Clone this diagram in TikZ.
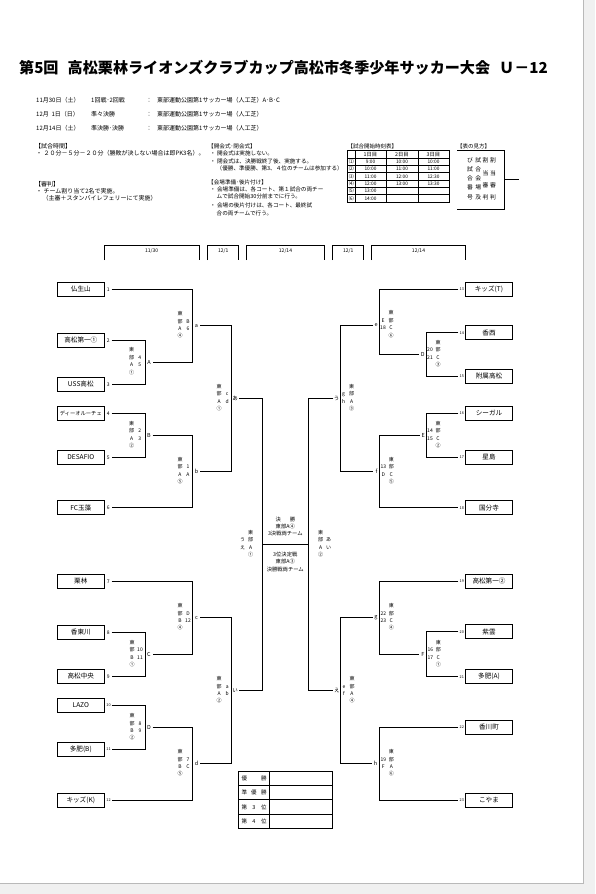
\documentclass[tikz,border=0pt]{standalone}
\usepackage{fontspec}
\setmainfont{Noto Sans CJK JP}
\usepackage{array}
\newcommand\fs[1]{\fontsize{#1}{#1}\selectfont}
\newcommand\annL[4]{\begin{tabular}{@{}w{c}{5pt}@{\hspace{3pt}}w{c}{5pt}@{}}東&\\部&#3\\#1&#4\\#2&\end{tabular}}
\newcommand\annR[4]{\begin{tabular}{@{}w{c}{5pt}@{\hspace{3pt}}w{c}{5pt}@{}}&東\\#3&部\\#4&#1\\&#2\end{tabular}}
\tikzset{
  ln/.style={line width=0.9pt},
  thin line/.style={line width=0.8pt},
  team/.style={draw, line width=0.9pt, minimum width=47pt, minimum height=14pt, inner sep=0, font=\fs{6.6}},
  num/.style={inner sep=0, font=\fs{5}},
  rnum/.style={inner sep=0, font=\fs{3.8}},
  lab/.style={inner sep=0, font=\fs{5.5}},
  ann/.style={inner sep=0, font=\fontsize{5}{7.4}\selectfont},
  note/.style={anchor=west, inner sep=0, font=\fs{6}},
  mnote/.style={anchor=west, inner sep=0, font=\fs{5.6}},
  cell/.style={inner sep=0, font=\fs{4.8}},
  datel/.style={inner sep=0, font=\fs{5}},
  fin/.style={inner sep=0, font=\fs{5.3}},
  ttl/.style={anchor=west, inner sep=0, font=\fs{15.1}\bfseries},
}
\begin{document}
\begin{tikzpicture}[x=1pt,y=-1pt]
\useasboundingbox (0,0) rectangle (595,894);
% page frame
\fill[gray!12] (0,0) rectangle (595,894);
\fill[white] (0,0) rectangle (583,883);
\draw[gray!55, line width=0.8pt] (583,0) -- (583,883) -- (0,883);

% title
\node[ttl] (ttl1) at (19,67.5) {第5回};
\node[ttl] (ttl2) at (67.5,67.5) {高松栗林ライオンズクラブカップ高松市冬季少年サッカー大会};
\node[ttl] (ttl3) at (499,67.5) {Ｕ－12};

% schedule lines
\node[note] (d1a) at (36,100) {11月30日（土）};
\node[note] (d1b) at (91,100) {1回戦･2回戦};
\node[note] (d1c) at (146,100) {：};
\node[note] (d1d) at (157,100) {東部運動公園第1サッカー場（人工芝）A･B･C};
\node[note] (d2a) at (36,114) {12月\ \ 1日（日）};
\node[note] (d2b) at (91,114) {準々決勝};
\node[note] (d2c) at (146,114) {：};
\node[note] (d2d) at (157,114) {東部運動公園第1サッカー場（人工芝）};
\node[note] (d3a) at (36,128) {12月14日（土）};
\node[note] (d3b) at (91,128) {準決勝･決勝};
\node[note] (d3c) at (146,128) {：};
\node[note] (d3d) at (157,128) {東部運動公園第1サッカー場（人工芝）};

% notes left
\node[note] (nA0) at (35,146) {【試合時間】};
\node[note] (nA1) at (36,153.5) {・ ２０分－５分－２０分（勝敗が決しない場合は即PK3名）。};
\node[note] (nB0) at (35,184) {【審判】};
\node[note] (nB1) at (36,191.5) {・ チーム割り当て2名で実施。};
\node[note] (nB2) at (42.5,198) {（主審＋スタンバイレフェリーにて実施）};
% notes middle
\node[mnote] (nC0) at (208,146) {【開会式･閉会式】};
\node[mnote] (nC1) at (210,153.5) {・ 開会式は実施しない。};
\node[mnote] (nC2) at (210,161) {・ 閉会式は、決勝戦終了後、実施する。};
\node[mnote] (nC3) at (216.5,168.3) {（優勝、準優勝、第3、４位のチームは参加する）};
\node[mnote] (nD0) at (208,182) {【会場準備･後片付け】};
\node[mnote] (nD1) at (210,189.3) {・ 会場準備は、各コート、第１試合の両チー};
\node[mnote] (nD2) at (216.5,196.8) {ムで試合開始30分前までに行う。};
\node[mnote] (nD3) at (210,205.6) {・ 会場の後片付けは、各コート、最終試};
\node[mnote] (nD4) at (216.5,213.2) {合の両チームで行う。};

% start time table
\node[note, font=\fs{5.5}] (tth) at (347.5,146) {【試合開始時刻表】};
\draw[thin line] (347.7,150.7) rectangle (449,202);
\foreach \yy in {158,165.3,172.7,180,187.3,194.7} \draw[thin line] (347.7,\yy) -- (449,\yy);
\foreach \xx in {355,386,418} \draw[thin line] (\xx,150.7) -- (\xx,202);
\node[cell, font=\fs{5.3}] (h1) at (370.5,154.4) {1日目};
\node[cell, font=\fs{5.3}] (h2) at (402,154.4) {2日目};
\node[cell, font=\fs{5.3}] (h3) at (433.5,154.4) {3日目};
\node[cell] (r1) at (351.3,161.7) {⑴};
\node[cell] (r2) at (351.3,169) {⑵};
\node[cell] (r3) at (351.3,176.4) {⑶};
\node[cell] (r4) at (351.3,183.7) {⑷};
\node[cell] (r5) at (351.3,191) {⑸};
\node[cell] (r6) at (351.3,198.4) {⑹};
\node[cell] (c11) at (370.5,161.7) {9:00};
\node[cell] (c12) at (402,161.7) {10:00};
\node[cell] (c13) at (433.5,161.7) {10:00};
\node[cell] (c21) at (370.5,169) {10:00};
\node[cell] (c22) at (402,169) {11:00};
\node[cell] (c23) at (433.5,169) {11:00};
\node[cell] (c31) at (370.5,176.4) {11:00};
\node[cell] (c32) at (402,176.4) {12:00};
\node[cell] (c33) at (433.5,176.4) {12:30};
\node[cell] (c41) at (370.5,183.7) {12:00};
\node[cell] (c42) at (402,183.7) {13:00};
\node[cell] (c43) at (433.5,183.7) {13:30};
\node[cell] (c51) at (370.5,191) {13:00};
\node[cell] (c61) at (370.5,198.4) {14:00};

% legend box
\node[note, font=\fs{5.5}] (lgh) at (457,146) {【表の見方】};
\draw[thin line] (457.3,150.7) -- (504,150.7) -- (504,209) -- (457.3,209);
\coordinate (lgstub) at (519.3,179);
\draw[thin line] (504,179) -- (lgstub);
\begin{scope}[every node/.style={inner sep=0, font=\fs{5.8}}]
\node (g11) at (470,160) {び}; \node (g12) at (478.3,160) {試};
\node (g13) at (485.5,160.5) {割}; \node (g14) at (493,160.5) {割};
\node (g21) at (470,169.3) {試}; \node (g22) at (478.3,169.3) {合};
\node (g23) at (485.5,173.3) {当}; \node (g24) at (493,173.3) {当};
\node (g31) at (470,178.3) {合}; \node (g32) at (478.3,178.3) {会};
\node (g33) at (485.5,185.7) {審}; \node (g34) at (493,185.7) {審};
\node (g41) at (470,187.3) {番}; \node (g42) at (478.3,187.3) {場};
\node (g51) at (470,197.3) {号}; \node (g52) at (478.3,197.3) {及};
\node (g53) at (485.5,197.3) {判}; \node (g54) at (493,197.3) {判};
\end{scope}

% date brackets
\draw[ln] (104.3,260) -- (104.3,245.7) -- (199,245.7) -- (199,260);
\draw[ln] (207.7,260) -- (207.7,245.7) -- (238.7,245.7) -- (238.7,260);
\draw[ln] (246.7,260) -- (246.7,245.7) -- (324.3,245.7) -- (324.3,260);
\draw[ln] (332.7,260) -- (332.7,245.7) -- (363.7,245.7) -- (363.7,260);
\draw[ln] (371.7,260) -- (371.7,245.7) -- (465.3,245.7) -- (465.3,260);
\node[datel] (dt1) at (151.7,250.5) {11/30};
\node[datel] (dt2) at (223.2,250.5) {12/1};
\node[datel] (dt3) at (285.5,250.5) {12/14};
\node[datel] (dt4) at (348.2,250.5) {12/1};
\node[datel] (dt5) at (418.5,250.5) {12/14};

% left teams
\node[team] (t1) at (80.8,289.3) {仏生山};
\node[team] (t2) at (80.8,340.3) {高松第一①};
\node[team] (t3) at (80.8,384.3) {USS高松};
\node[team, font=\fs{5.3}] (t4) at (80.8,413.3) {ディーオルーチェ};
\node[team] (t5) at (80.8,457.3) {DESAFIO};
\node[team] (t6) at (80.8,507.7) {FC玉藻};
\node[team] (t7) at (80.8,581.3) {栗林};
\node[team] (t8) at (80.8,632.3) {香東川};
\node[team] (t9) at (80.8,676.3) {高松中央};
\node[team] (t10) at (80.8,705.3) {LAZO};
\node[team] (t11) at (80.8,749.3) {多肥(B)};
\node[team] (t12) at (80.8,800) {キッズ(K)};
\node[num] (n1) at (108.3,289.3) {1};
\node[num] (n2) at (108.3,340.3) {2};
\node[num] (n3) at (108.3,384.3) {3};
\node[num] (n4) at (108.3,413.3) {4};
\node[num] (n5) at (108.3,457.3) {5};
\node[num] (n6) at (108.3,507.7) {6};
\node[num] (n7) at (108.3,581.3) {7};
\node[num] (n8) at (108.3,632.3) {8};
\node[num] (n9) at (108.3,676.3) {9};
\node[rnum] (n10) at (108.6,705.3) {10};
\node[rnum] (n11) at (108.6,749.3) {11};
\node[rnum] (n12) at (108.6,800) {12};

% right teams
\node[team] (t13) at (489,289.3) {キッズ(T)};
\node[team] (t14) at (489,332.7) {香西};
\node[team] (t15) at (489,376) {附属高松};
\node[team] (t16) at (489,413.3) {シーガル};
\node[team] (t17) at (489,457.3) {星島};
\node[team] (t18) at (489,507.7) {国分寺};
\node[team] (t19) at (489,581) {高松第一②};
\node[team] (t20) at (489,631.7) {紫雲};
\node[team] (t21) at (489,676.7) {多肥(A)};
\node[team] (t22) at (489,727.3) {香川町};
\node[team] (t23) at (489,800) {こやま};
\node[rnum] (n13) at (461.8,289.3) {13};
\node[rnum] (n14) at (461.8,332.7) {14};
\node[rnum] (n15) at (461.8,376) {15};
\node[rnum] (n16) at (461.8,413.3) {16};
\node[rnum] (n17) at (461.8,457.3) {17};
\node[rnum] (n18) at (461.8,507.7) {18};
\node[rnum] (n19) at (461.8,581) {19};
\node[rnum] (n20) at (461.8,631.7) {20};
\node[rnum] (n21) at (461.8,676.7) {21};
\node[rnum] (n22) at (461.8,727.3) {22};
\node[rnum] (n23) at (461.8,800) {23};

% left bracket lines
\draw[ln] (111.7,340.3) -- (145.7,340.3) -- (145.7,384.3) -- (111.7,384.3);
\draw[ln] (111.7,413.3) -- (145.7,413.3) -- (145.7,457.3) -- (111.7,457.3);
\draw[ln] (111.7,289.3) -- (192.7,289.3) -- (192.7,362.3) -- (152.7,362.3);
\draw[ln] (152.7,435.3) -- (192.7,435.3) -- (192.7,507.7) -- (111.7,507.7);
\draw[ln] (200,325.8) -- (231,325.8) -- (231,471.5) -- (200,471.5);
\draw[ln] (239.3,398.65) -- (262.3,398.65) -- (262.3,690.7) -- (239.3,690.7);
\draw[ln] (111.7,632.3) -- (145.7,632.3) -- (145.7,676.3) -- (111.7,676.3);
\draw[ln] (111.7,705.3) -- (145.7,705.3) -- (145.7,749.3) -- (111.7,749.3);
\draw[ln] (111.7,581.3) -- (192.7,581.3) -- (192.7,654.3) -- (152.7,654.3);
\draw[ln] (152.7,727.3) -- (192.7,727.3) -- (192.7,800) -- (111.7,800);
\draw[ln] (200,617.8) -- (231,617.8) -- (231,763.65) -- (200,763.65);

% right bracket lines
\draw[ln] (458.3,332.7) -- (426.7,332.7) -- (426.7,376) -- (458.3,376);
\draw[ln] (458.3,289.3) -- (379.3,289.3) -- (379.3,354.35) -- (419,354.35);
\draw[ln] (458.3,413.3) -- (426.7,413.3) -- (426.7,457.3) -- (458.3,457.3);
\draw[ln] (419.5,435.3) -- (379.3,435.3) -- (379.3,507.7) -- (458.3,507.7);
\draw[ln] (373.3,325) -- (340,325) -- (340,471.5) -- (373.3,471.5);
\draw[ln] (333.3,398.25) -- (308.3,398.25) -- (308.3,690.6) -- (333.3,690.6);
\draw[ln] (458.3,631.7) -- (426.7,631.7) -- (426.7,676.7) -- (458.3,676.7);
\draw[ln] (458.3,581) -- (379.3,581) -- (379.3,654.2) -- (419,654.2);
\draw[ln] (458.3,727.3) -- (379.3,727.3) -- (379.3,800) -- (458.3,800);
\draw[ln] (372.5,617.6) -- (340,617.6) -- (340,763.65) -- (371.5,763.65);
% centre
\draw[ln] (262.3,544.3) -- (308.3,544.3);

% match labels left
\node[lab] (mA) at (149,362.3) {A};
\node[lab] (mB) at (149,435.3) {B};
\node[lab] (ma) at (196.5,325.8) {a};
\node[lab] (mb) at (196.5,471.5) {b};
\node[lab] (mあ) at (235.2,398.65) {あ};
\node[lab] (mC) at (149,654.3) {C};
\node[lab] (mD) at (149,727.3) {D};
\node[lab] (mc) at (196.5,617.8) {c};
\node[lab] (md) at (196.5,763.65) {d};
\node[lab] (mい) at (235.2,690.7) {い};
% match labels right
\node[lab] (rD) at (422.8,354.35) {D};
\node[lab] (rE) at (423.3,435.3) {E};
\node[lab] (rF) at (422.8,654.2) {F};
\node[lab] (re) at (376.2,325) {e};
\node[lab] (rf) at (376.4,471.5) {f};
\node[lab] (rg) at (375.8,617.6) {g};
\node[lab] (rh) at (375.5,763.65) {h};
\node[lab] (rう) at (336.5,398.25) {う};
\node[lab] (rえ) at (336.8,690.6) {え};

% annotations left
\node[ann] (aA) at (135.7,361.5) {\annL{A}{①}{4}{5}};
\node[ann] (aB) at (135.7,435) {\annL{A}{②}{2}{3}};
\node[ann] (aa) at (184,325.3) {\annL{A}{④}{B}{6}};
\node[ann] (ab) at (184,471) {\annL{A}{⑤}{1}{A}};
\node[ann] (aあ) at (223.2,398) {\annL{A}{①}{c}{d}};
\node[ann] (aC) at (136,654) {\annL{B}{①}{10}{11}};
\node[ann] (aD) at (136,727.3) {\annL{B}{②}{8}{9}};
\node[ann] (ac) at (184,617.3) {\annL{B}{④}{D}{12}};
\node[ann] (ad) at (184,763.3) {\annL{B}{⑤}{7}{C}};
\node[ann] (aい) at (223.2,690.3) {\annL{A}{②}{a}{b}};
% annotations right
\node[ann] (bD) at (434,354) {\annR{C}{③}{20}{21}};
\node[ann] (bE) at (434,435) {\annR{C}{②}{14}{15}};
\node[ann] (bF) at (434.3,654) {\annR{C}{①}{16}{17}};
\node[ann] (be) at (387,324.5) {\annR{C}{⑥}{E}{18}};
\node[ann] (bf) at (387.3,471) {\annR{C}{⑤}{13}{D}};
\node[ann] (bg) at (387.3,617.3) {\annR{C}{④}{22}{23}};
\node[ann] (bh) at (387.3,763.3) {\annR{A}{⑥}{19}{F}};
\node[ann] (bう) at (347.6,398) {\annR{A}{③}{g}{h}};
\node[ann] (bえ) at (348,690.3) {\annR{A}{④}{e}{f}};
% centre annotations
\node[ann] (cL) at (246.7,544) {\annR{A}{①}{う}{え}};
\node[ann] (cR) at (324.6,544) {\annL{A}{②}{あ}{い}};

% final texts
\node[fin] (f1) at (285.3,519.3) {決\hspace{9pt}勝};
\node[fin] (f2) at (285.3,526.7) {東部A④};
\node[fin] (f3) at (285.3,533.8) {3決戦両チーム};
\node[fin] (f4) at (285.3,554.2) {3位決定戦};
\node[fin] (f5) at (285.3,561.7) {東部A③};
\node[fin] (f6) at (285.3,569) {決勝戦両チーム};

% results table
\draw[ln] (238.3,771) rectangle (332.3,828.3);
\draw[ln] (269.3,771) -- (269.3,828.3);
\foreach \yy in {785.3,799.7,814} \draw[ln] (238.3,\yy) -- (332.3,\yy);
\node[inner sep=0, font=\fs{5.5}] (p1) at (254,778.2) {\makebox[25pt][s]{優\hfill 勝}};
\node[inner sep=0, font=\fs{5.5}] (p2) at (254,792.5) {\makebox[25pt][s]{準\hfill 優\hfill 勝}};
\node[inner sep=0, font=\fs{5.5}] (p3) at (254,806.9) {\makebox[25pt][s]{第\hfill 3\hfill 位}};
\node[inner sep=0, font=\fs{5.5}] (p4) at (254,821.2) {\makebox[25pt][s]{第\hfill 4\hfill 位}};
\end{tikzpicture}
\end{document}
